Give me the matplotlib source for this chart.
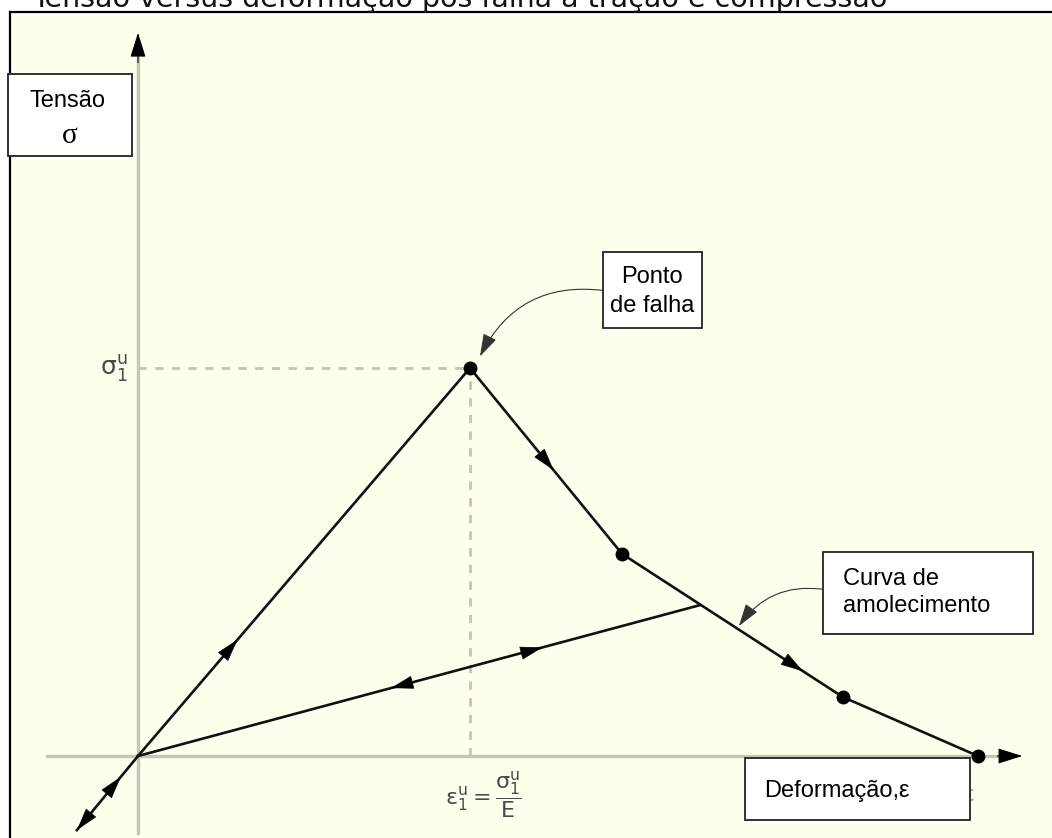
import numpy as np
import matplotlib
matplotlib.use("Agg")
import matplotlib.pyplot as plt
from matplotlib.patches import Rectangle

plt.rcParams["mathtext.default"] = "regular"

# stress-strain path (normalised: failure point = (1, 1))
curve_x = [0.0, 1.0, 1.458, 2.123, 2.530]
curve_y = [0.0, 1.0, 0.521, 0.152, 0.0]
dot_x = [1.0, 1.458, 2.123, 2.530]
dot_y = [1.0, 0.521, 0.152, 0.0]
unload_x = [0.0, 1.693]
unload_y = [0.0, 0.389]
comp_x = [0.0, -0.184]
comp_y = [0.0, -0.191]

title = "Tensão versus deformação pós falha à tração e compressão"

W, H = 1052, 838
fig = plt.figure(figsize=(W / 100, H / 100), dpi=100, facecolor="white")

# axes placed so that the origin sits at pixel (138, 756)
ax = fig.add_axes([10 / W, 0, 1042 / W, 826 / H])
ax.set_xlim(-0.3855, 2.753)
ax.set_ylim(-0.2113, 1.9175)
ax.set_facecolor("#fefeec")
ax.set_xticks([])
ax.set_yticks([])
for s in ["right", "bottom"]:
    ax.spines[s].set_visible(False)
for s in ["left", "top"]:
    ax.spines[s].set_linewidth(1.6)
    ax.spines[s].set_color("black")

axis_grey = "#c6c6b6"
# axes lines
ax.plot([0, 0], [-0.198, 1.80], color=axis_grey, lw=2.4, zorder=1)
ax.plot([-0.274, 2.60], [0, 0], color=axis_grey, lw=2.4, zorder=1)
ax.annotate("", xy=(0, 1.871), xytext=(0, 1.78),
            arrowprops=dict(arrowstyle="-|>,head_length=0.7,head_width=0.22",
                            color="black", lw=0.8, mutation_scale=22))
ax.annotate("", xy=(2.672, 0), xytext=(2.58, 0),
            arrowprops=dict(arrowstyle="-|>,head_length=0.7,head_width=0.22",
                            color="black", lw=0.8, mutation_scale=22))

# dashed guides
ax.plot([0, 1], [1, 1], color="#c4c4b4", lw=2, ls=(0, (3, 3)), zorder=1)
ax.plot([1, 1], [0, 1], color="#c4c4b4", lw=2, ls=(0, (3, 3)), zorder=1)

# curves
ax.plot(curve_x, curve_y, color="#111111", lw=1.9, zorder=3)
ax.plot(unload_x, unload_y, color="#111111", lw=1.9, zorder=3)
ax.plot(comp_x, comp_y, color="#111111", lw=1.9, zorder=3)
ax.plot(dot_x, dot_y, "o", color="black", ms=9, zorder=4)


def head(x0, y0, x1, y1, frac):
    # arrowhead on segment (x0,y0)->(x1,y1) at fraction frac
    tx = x0 + frac * (x1 - x0)
    ty = y0 + frac * (y1 - y0)
    d = 0.06
    ax.annotate("", xy=(tx, ty), xytext=(tx - d * (x1 - x0), ty - d * (y1 - y0)),
                arrowprops=dict(arrowstyle="-|>,head_length=0.75,head_width=0.22",
                                color="black", lw=0.5, mutation_scale=20,
                                shrinkA=0, shrinkB=0), zorder=5)


head(curve_x[0], curve_y[0], curve_x[1], curve_y[1], 0.30)
head(curve_x[1], curve_y[1], curve_x[2], curve_y[2], 0.55)
head(curve_x[2], curve_y[2], curve_x[3], curve_y[3], 0.82)
head(unload_x[0], unload_y[0], unload_x[1], unload_y[1], 0.72)
head(unload_x[1], unload_y[1], unload_x[0], unload_y[0], 0.55)
head(comp_x[1], comp_y[1], comp_x[0], comp_y[0], 0.72)
head(comp_x[0], comp_y[0], comp_x[1], comp_y[1], 1.0)

# axis labels
ax.text(-0.03, 1.0, r"$\sigma_1^u$", color="#4a4a4a", fontsize=18,
        ha="right", va="center")
ax.text(1.042, -0.1, r"$\varepsilon_1^u = \dfrac{\sigma_1^u}{E}$", color="#4a4a4a",
        fontsize=16, ha="center", va="center")
ax.text(2.50, -0.1, r"$\varepsilon$", color="#999999", fontsize=16,
        ha="center", va="center", zorder=1)

# leader arrows
ax.annotate("", xy=(1.03, 1.03), xytext=(1.40, 1.20),
            arrowprops=dict(arrowstyle="-|>,head_length=0.7,head_width=0.22",
                            color="#333333", lw=0.8, mutation_scale=20,
                            connectionstyle="arc3,rad=0.35", shrinkA=0, shrinkB=0))
ax.annotate("", xy=(1.81, 0.335), xytext=(2.06, 0.43),
            arrowprops=dict(arrowstyle="-|>,head_length=0.7,head_width=0.22",
                            color="#333333", lw=0.8, mutation_scale=20,
                            connectionstyle="arc3,rad=0.3", shrinkA=0, shrinkB=0))


def px(x, y):
    return x / W, 1 - y / H


def box(x0, y0, x1, y1):
    r = Rectangle(px(x0, y1), (x1 - x0) / W, (y1 - y0) / H, transform=fig.transFigure,
                  facecolor="white", edgecolor="#222222", lw=1.3, zorder=5)
    fig.add_artist(r)


sans = "Liberation Sans"
box(8, 74, 132, 156)
fig.text(*px(68, 107), "Tensão", fontsize=17, family=sans, ha="center", va="baseline", zorder=6)
fig.text(*px(70, 143), "σ", fontsize=21, family="Liberation Serif", ha="center", va="baseline", zorder=6)

box(603, 252, 702, 328)
fig.text(*px(652, 283), "Ponto", fontsize=17, family=sans, ha="center", va="baseline", zorder=6)
fig.text(*px(652, 312), "de falha", fontsize=17, family=sans, ha="center", va="baseline", zorder=6)

box(823, 552, 1033, 634)
fig.text(*px(843, 585), "Curva de", fontsize=17, family=sans, ha="left", va="baseline", zorder=6)
fig.text(*px(843, 612), "amolecimento", fontsize=17, family=sans, ha="left", va="baseline", zorder=6)

box(745, 758, 970, 820)
fig.text(*px(764, 797), "Deformação,ε", fontsize=17, family=[sans, "DejaVu Sans"],
         ha="left", va="baseline", zorder=6)

# title, cut off by the top edge (as in the source image)
fig.text(*px(32, 7), title, fontsize=20.5, family="DejaVu Sans", ha="left",
         va="baseline", color="#111111")

fig.savefig("out.png", dpi=100, facecolor="white")
